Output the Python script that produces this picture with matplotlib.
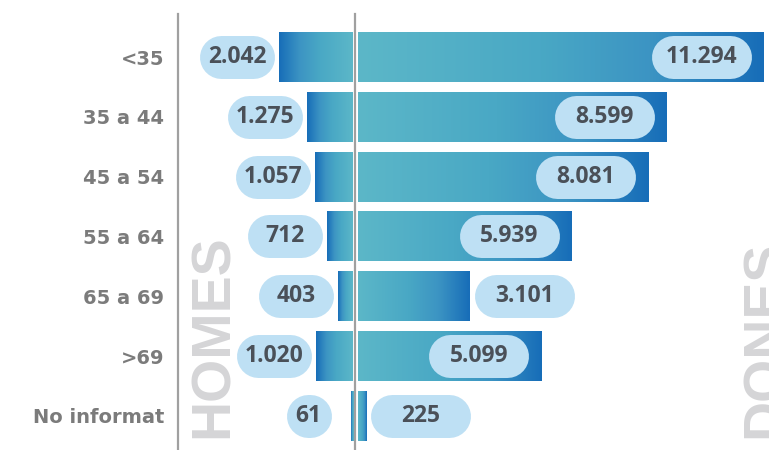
import numpy as np
import matplotlib.pyplot as plt
from matplotlib.colors import LinearSegmentedColormap

#%% data

categories = ['<35', '35 a 44', '45 a 54', '55 a 64', '65 a 69', '>69', 'No informat']
homes = [2042, 1275, 1057, 712, 403, 1020, 61]
dones = [11294, 8599, 8081, 5939, 3101, 5099, 225]


def fmt(v):
    return f"{v:,}".replace(",", ".")


#%% figure / scales

W, H = 769, 450
fig = plt.figure(figsize=(W / 100, H / 100), dpi=100)
ax = fig.add_axes([178 / W, 0, 1 - 178 / W, 1])
ax.set_facecolor('none')

ux = 27.855        # data units per pixel (x)
cx = 355.3         # pixel position of zero
row_px = 59.8      # pixel spacing of rows
top_px = 57        # pixel centre of first row
uy = 1 / row_px

xlim = ((178 - cx) * ux, (W - cx) * ux)
ylim = ((H - top_px) / row_px, -top_px / row_px)

def px(x):
    return (x - cx) * ux

def py(y):
    return (y - top_px) / row_px

gap = 2.5 * ux
bar_h = 50 * uy
pill_px = 43

cmap = LinearSegmentedColormap.from_list(
    'tealblue', [(0, '#5cb7c8'), (0.45, '#49a8c5'), (0.72, '#3c94c3'), (1, '#176db8')])
grad = np.linspace(0, 1, 256).reshape(1, -1)

pill_col = '#bee0f4'
txt_col = '#4a5058'

# big background words
ax.text(px(228), py(438), 'HOMES', rotation=90, rotation_mode='anchor',
        ha='left', va='baseline', fontsize=40, fontweight='bold',
        family='Liberation Sans', color='#d5d5d7', zorder=0)
ax.text(px(780), py(438), 'DONES', rotation=90, rotation_mode='anchor',
        ha='left', va='baseline', fontsize=40, fontweight='bold',
        family='Liberation Sans', color='#d5d5d7', zorder=0, clip_on=False)


def pill(xl, w, y, label):
    # rounded label drawn as a thick line with round caps
    r = pill_px / 2 * ux
    ax.plot([xl + r, xl + w - r], [y, y], color=pill_col, lw=pill_px * 0.72,
            solid_capstyle='round', zorder=4)
    ax.text(xl + w / 2, y, label, ha='center', va='center', fontsize=16.5,
            fontweight='bold', family='Open Sans', color=txt_col, zorder=5)


for i, (h, d) in enumerate(zip(homes, dones)):
    # left bar (homes)
    ax.imshow(grad[:, ::-1], extent=[-gap - h, -gap, i + bar_h / 2, i - bar_h / 2],
              cmap=cmap, aspect='auto', interpolation='bilinear', zorder=2)
    # right bar (dones)
    ax.imshow(grad, extent=[gap, gap + d, i + bar_h / 2, i - bar_h / 2],
              cmap=cmap, aspect='auto', interpolation='bilinear', zorder=2)

    # left label
    lab = fmt(h)
    w = (41 if len(lab) <= 2 else 75) * ux
    c = -gap - h - 42 * ux
    pill(c - w / 2, w, i, lab)

    # right label
    w = 100 * ux
    if d > w + 24 * ux:
        pill(gap + d - 12 * ux - w, w, i, fmt(d))
    else:
        pill(gap + d + 5 * ux, w, i, fmt(d))

ax.set_xlim(*xlim)
ax.set_ylim(*ylim)

# vertical guide lines
top = 1 - 14 / H
ax.axvline(0, ymin=0, ymax=top, color='#a0a0a0', lw=1.6, zorder=6)
ax.axvline(xlim[0], ymin=0, ymax=top, color='#a0a0a0', lw=1.6, zorder=6, clip_on=False)

ax.set_yticks(range(len(categories)), categories)
ax.set_xticks([])
ax.tick_params(axis='y', length=0, pad=10, labelsize=14, labelcolor='#7b7b7b')
for t in ax.get_yticklabels():
    t.set_fontweight('bold')
for s in ax.spines.values():
    s.set_visible(False)

fig.savefig('out.png', dpi=100)
